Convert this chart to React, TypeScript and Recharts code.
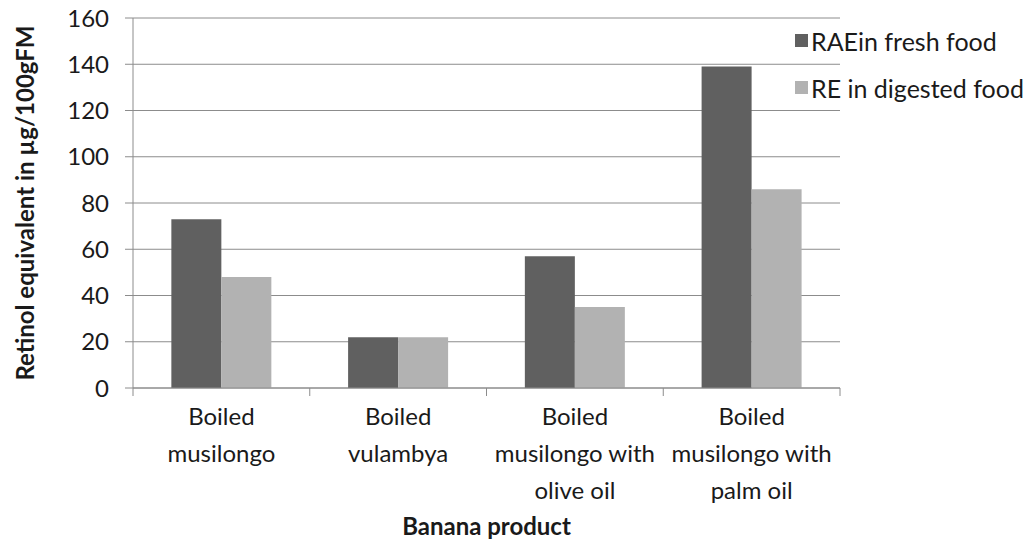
import React from "react";
import {
  BarChart,
  Bar,
  XAxis,
  YAxis,
  CartesianGrid,
  Label,
} from "recharts";

const categories = [
  "Boiled\nmusilongo",
  "Boiled\nvulambya",
  "Boiled\nmusilongo with\nolive oil",
  "Boiled\nmusilongo with\npalm oil",
];
const freshValues = [73, 22, 57, 139];
const digestedValues = [48, 22, 35, 86];
const yTicks = [0, 20, 40, 60, 80, 100, 120, 140, 160];

const seriesNames = ["RAEin fresh food", "RE in digested food"];
const colors = ["#606060", "#b2b2b2"];

const data = categories.map((c, i) => ({
  name: c,
  fresh: freshValues[i],
  digested: digestedValues[i],
}));

const W = 1023;
const H = 541;
const margin = { top: 18, right: 183, bottom: 0, left: 0 };
const yAxisWidth = 133;
const xAxisHeight = 153;
const band = (W - margin.left - margin.right - yAxisWidth) / categories.length;
const FONT = "Lato, 'Open Sans', sans-serif";
const GRID = "#8c8c8c";
const TEXT = "#1a1a1a";

function CategoryTick(props: any) {
  const { x, y, payload, index } = props;
  const lines = String(payload.value).split("\n");
  const last = index === categories.length - 1;
  return (
    <g>
      <line x1={x - band / 2} y1={y} x2={x - band / 2} y2={y + 8} stroke={GRID} />
      {last && (
        <line x1={x + band / 2} y1={y} x2={x + band / 2} y2={y + 8} stroke={GRID} />
      )}
      <text x={x} y={y} textAnchor="middle" fontFamily={FONT} fontSize={24} fill={TEXT}>
        {lines.map((l, i) => (
          <tspan key={i} x={x} dy={37}>
            {l}
          </tspan>
        ))}
      </text>
    </g>
  );
}

function LegendBox() {
  return (
    <div
      style={{
        position: "absolute",
        left: 795,
        top: 17,
        fontFamily: FONT,
        fontSize: 25,
        color: TEXT,
      }}
    >
      {seriesNames.map((n, i) => (
        <div
          key={n}
          style={{ display: "flex", alignItems: "center", height: 47, whiteSpace: "nowrap" }}
        >
          <span
            style={{
              display: "inline-block",
              width: 13,
              height: 13,
              background: colors[i],
              marginRight: 3,
            }}
          />
          {n}
        </div>
      ))}
    </div>
  );
}

export default function App() {
  return (
    <div style={{ position: "absolute", left: 0, top: 0, width: W, height: H, background: "#fff" }}>
      <BarChart
        width={W}
        height={H}
        data={data}
        margin={margin}
        barCategoryGap="21.7%"
        barGap={0}
      >
        <CartesianGrid vertical={false} stroke={GRID} />
        <XAxis
          dataKey="name"
          height={xAxisHeight}
          axisLine={{ stroke: GRID }}
          tickLine={false}
          tickSize={0}
          tickMargin={0}
          interval={0}
          tick={<CategoryTick />}
        >
          <Label
            content={() => (
              <text
                x={486.5}
                y={535}
                textAnchor="middle"
                fontFamily={FONT}
                fontWeight="bold"
                fontSize={24}
                fill={TEXT}
              >
                Banana product
              </text>
            )}
          />
        </XAxis>
        <YAxis
          width={yAxisWidth}
          domain={[0, 160]}
          ticks={yTicks}
          interval={0}
          axisLine={{ stroke: GRID }}
          tickLine={{ stroke: GRID }}
          tickSize={8}
          tickMargin={16}
          tick={{ fontFamily: FONT, fontSize: 24, fill: TEXT }}
        >
          <Label
            content={() => (
              <text
                x={0}
                y={0}
                transform="translate(34, 203) rotate(-90)"
                textAnchor="middle"
                fontFamily={FONT}
                fontWeight="bold"
                fontSize={24}
                fill={TEXT}
              >
                Retinol equivalent in µg/100gFM
              </text>
            )}
          />
        </YAxis>
        <Bar dataKey="fresh" name={seriesNames[0]} fill={colors[0]} isAnimationActive={false} />
        <Bar dataKey="digested" name={seriesNames[1]} fill={colors[1]} isAnimationActive={false} />
      </BarChart>
      <LegendBox />
    </div>
  );
}
